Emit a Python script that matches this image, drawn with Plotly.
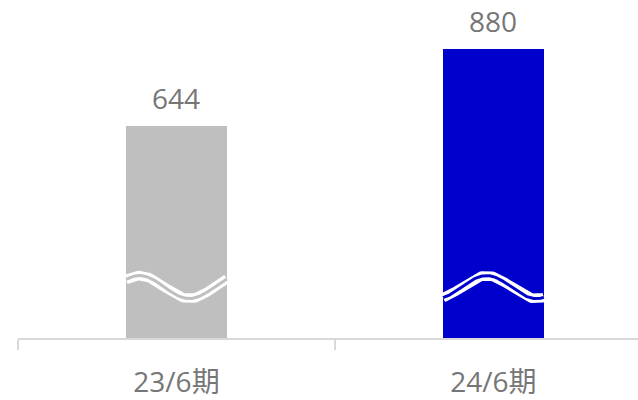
import numpy as np
import plotly.graph_objects as go

# Data
periods = ["23/6期", "24/6期"]
values = [644, 880]
bar_colors = ["#BFBFBF", "#0000CC"]

# Layout constants
X_RANGE = [-0.5, 1.456]
Y_RANGE = [0, 1029]
BAR_W = 0.318
TEXT_COLOR = "#767676"
AXIS_COLOR = "#D9D9D9"
FONT = "Open Sans, Noto Sans CJK JP, sans-serif"

fig = go.Figure()

fig.add_trace(go.Bar(
    x=periods, y=values, width=BAR_W,
    marker=dict(color=bar_colors, line=dict(width=0)),
    hoverinfo="skip", showlegend=False,
))

# Value labels above bars
for p, v in zip(periods, values):
    fig.add_annotation(
        x=p, y=v, xref="x", yref="y", text=str(v), showarrow=False,
        yanchor="bottom", yshift=7,
        font=dict(family=FONT, size=28, color=TEXT_COLOR),
    )

# Decorative axis-break waves across each bar (drawn on an overlay linear axis)
wave_center = 155
wave_amp = 35
wave_period = 0.315
wave_phase = [-0.117, -0.022]  # offset of the crest from the bar center
for i, (col, ph) in enumerate(zip(bar_colors, wave_phase)):
    xs = np.linspace(i - BAR_W / 2, i + BAR_W / 2, 120)
    ys = wave_center + wave_amp * np.cos(2 * np.pi * (xs - i - ph) / wave_period)
    fig.add_trace(go.Scatter(
        x=xs, y=ys, xaxis="x2", yaxis="y", mode="lines",
        line=dict(color="white", width=9.5), hoverinfo="skip", showlegend=False,
    ))
    fig.add_trace(go.Scatter(
        x=xs, y=ys, xaxis="x2", yaxis="y", mode="lines",
        line=dict(color=col, width=3), hoverinfo="skip", showlegend=False,
    ))

fig.update_layout(
    width=638, height=400,
    margin=dict(l=18, r=0, t=0, b=60),
    paper_bgcolor="white", plot_bgcolor="white",
    font=dict(family=FONT, color=TEXT_COLOR),
    xaxis=dict(
        type="category", range=X_RANGE, tickson="boundaries",
        ticks="outside", ticklen=10, tickwidth=1.5, tickcolor=AXIS_COLOR,
        showline=True, linecolor=AXIS_COLOR, linewidth=1.5,
        showgrid=False, zeroline=False,
        tickfont=dict(family=FONT, size=28, color=TEXT_COLOR),
        ticklabelstandoff=19,
    ),
    xaxis2=dict(
        overlaying="x", range=X_RANGE, visible=False, showgrid=False,
        zeroline=False,
    ),
    yaxis=dict(range=Y_RANGE, visible=False, showgrid=False, zeroline=False),
    bargap=0,
)

fig.write_html("out.html")
